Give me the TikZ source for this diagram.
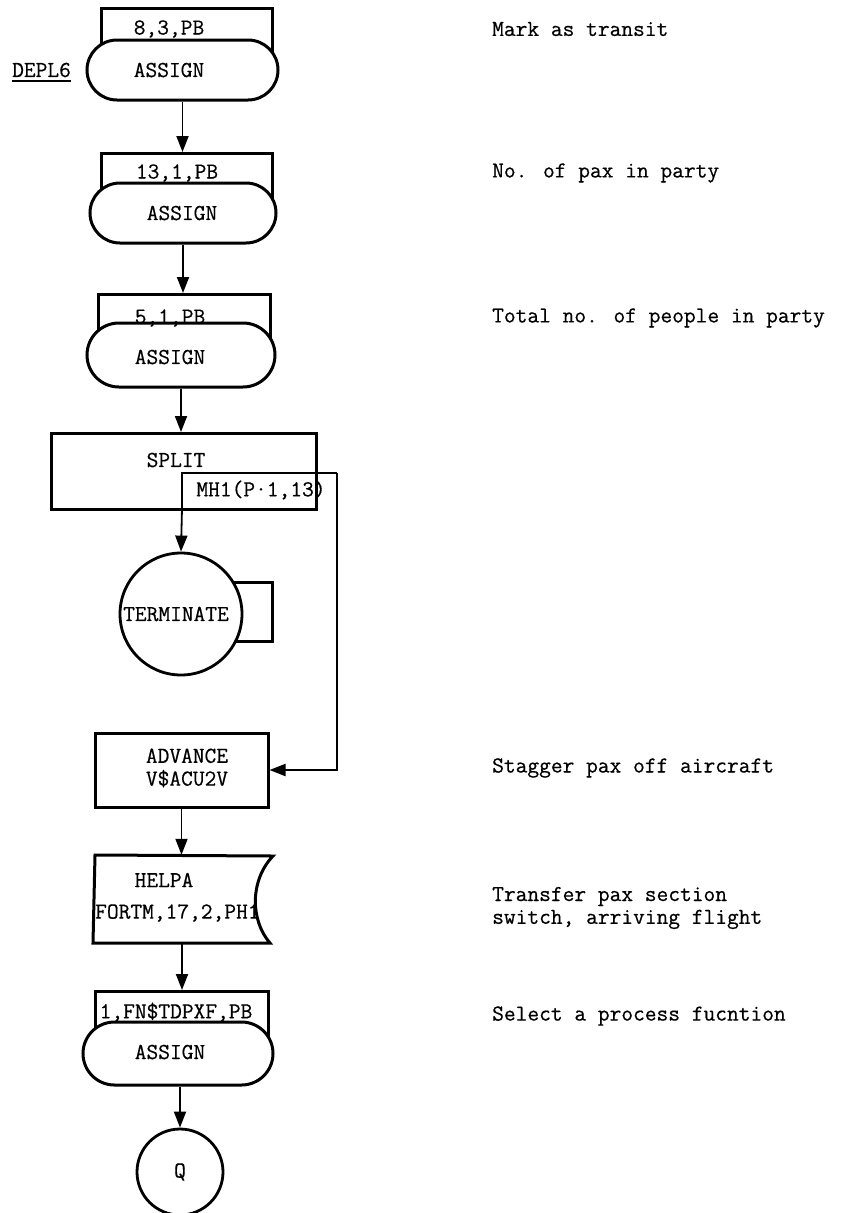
\documentclass[tikz,border=0pt]{standalone}
\usepackage{fontspec}
\newfontfamily\tyfam{Latin Modern Mono}[FakeBold=0.5]
\usetikzlibrary{arrows.meta}
\newcommand\tyfont{\tyfam\fontsize{22.8}{22.8}\selectfont}
\begin{document}
\begin{tikzpicture}[x=1pt,y=-1pt,
  box/.style={draw, line width=3pt, inner sep=0pt},
  thinbox/.style={draw, line width=2pt},
  stad/.style={draw, fill=white, line width=3pt, inner sep=0pt},
  circ/.style={draw, fill=white, circle, line width=2.8pt, inner sep=0pt},
  lbl/.style={inner sep=0pt, font=\tyfont},
  note/.style={inner sep=0pt, font=\tyfont, anchor=west},
  arr/.style={line width=1.8pt, -{Triangle[length=16pt,width=12pt]}},
  ghost/.style={inner sep=0pt}]
\useasboundingbox[fill=white] (0,0) rectangle (841,1213);

% ---- block 1
\node[box, minimum width=171pt, minimum height=50pt, anchor=north west] (r1) at (100,7) {};
\node[stad, rounded corners=30pt, minimum width=191pt, minimum height=60pt] (a1) at (182.5,70) {};
\node[lbl] (t1) at (169,29) {8,3,PB};
\node[lbl] (s1) at (169,70) {ASSIGN};
\node[lbl, anchor=west] (dep) at (12,70) {DEPL6};
\draw[line width=2pt] ([yshift=-4pt]dep.south west) -- ([yshift=-4pt]dep.south east);

% ---- block 2
\node[box, minimum width=171pt, minimum height=50pt, anchor=north west] (r2) at (100,152) {};
\node[stad, rounded corners=30pt, minimum width=186pt, minimum height=60pt] (a2) at (183,213) {};
\node[lbl] (t2) at (177,173) {13,1,PB};
\node[lbl] (s2) at (182,213) {ASSIGN};

% ---- block 3
\node[box, minimum width=172pt, minimum height=50pt, anchor=north west] (r3) at (97,293) {};
\node[stad, rounded corners=32pt, minimum width=188pt, minimum height=64pt] (a3) at (181,355) {};
\node[lbl] (t3) at (170,318) {5,1,PB};
\node[lbl] (s3) at (170,357) {ASSIGN};

% ---- split
\node[box, minimum width=265pt, minimum height=76pt, anchor=north west] (sp) at (50,432) {};
\node[lbl] (spt) at (176,460) {SPLIT};
\coordinate (m1) at (182,508);
\coordinate (m2) at (182,473);
\coordinate (m3) at (337,473);
\draw[thinbox] (m1) -- (m2) -- (m3);
\node[lbl] (mht) at (261,490) {MH1(P·1,13)};

% ---- terminate
\node[box, minimum width=52pt, minimum height=59pt] (tr) at (246,611.5) {};
\node[circ, minimum size=122pt] (term) at (181,614) {};
\node[lbl] (tt) at (176,614) {TERMINATE};

% ---- advance
\node[box, minimum width=173pt, minimum height=74pt] (adv) at (181.5,770) {};
\node[lbl, align=center] (advt) at (187,768) {ADVANCE\\V\$ACU2V};

% ---- helpa
\node[ghost, minimum width=178pt, minimum height=88pt] (helpa) at (182,899) {};
\draw[line width=3pt, line join=miter]
  (95,855) -- (273,856) .. controls (250,880) and (250,920) .. (270,943) -- (93,943) -- cycle;
\node[lbl] (ht) at (164,880) {HELPA};
\node[lbl, anchor=west] (hf) at (95,913) {FORTM,17,2,PH1};

% ---- block 4
\node[box, minimum width=173pt, minimum height=50pt, anchor=north west] (r4) at (94,990) {};
\node[stad, rounded corners=31.5pt, minimum width=190pt, minimum height=63pt] (a4) at (178,1053.5) {};
\node[lbl] (t4) at (176,1012) {1,FN\$TDPXF,PB};
\node[lbl] (s4) at (170,1052) {ASSIGN};

% ---- Q
\node[circ, minimum size=86pt] (q) at (180,1172) {};
\node[lbl] (qt) at (180,1172) {Q};

% ---- connectors
\draw[arr] (a1.south) -- (a1.south |- r2.north);
\draw[arr] (a2.south) -- (a2.south |- r3.north);
\draw[arr] (a3.south) -- (a3.south |- sp.north);
\draw[arr] (m1) -- (term.north);
\draw[arr, line width=2pt] (m3) -- (m3 |- adv.east) -- (adv.east);
\draw[arr] (adv.south) -- (adv.south |- helpa.north);
\draw[arr] (helpa.south) -- (helpa.south |- r4.north);
\draw[arr] (a4.south -| q.north) -- (q.north);

% ---- notes
\node[note] (n1) at (492,29) {Mark as transit};
\node[note] (n2) at (492,173) {No. of pax in party};
\node[note] (n3) at (492,318) {Total no. of people in party};
\node[note] (n4) at (492,768) {Stagger pax off aircraft};
\node[note, align=left] (n5) at (492,908) {Transfer pax section\\switch, arriving flight};
\node[note] (n6) at (492,1016) {Select a process fucntion};
\end{tikzpicture}
\end{document}
